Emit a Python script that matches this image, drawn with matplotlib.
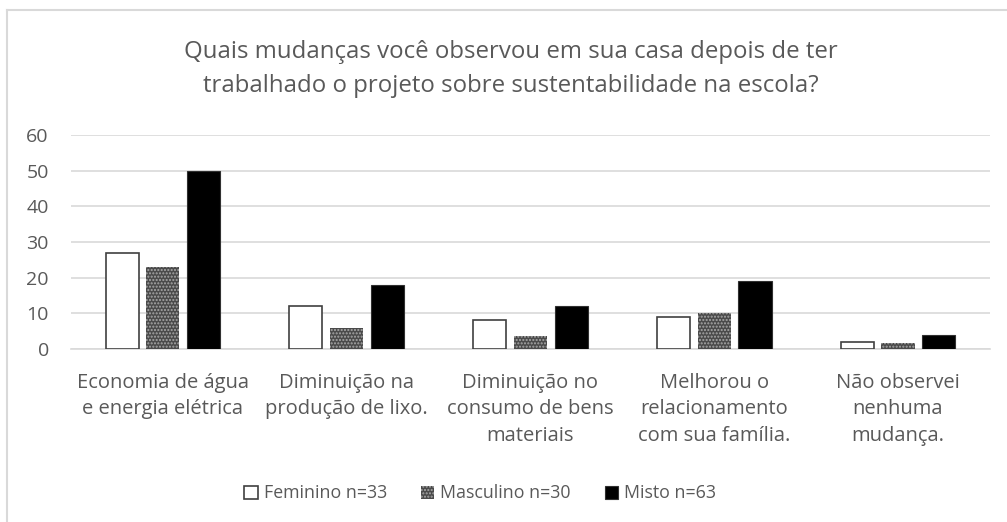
import matplotlib.pyplot as plt
import numpy as np
from matplotlib.lines import Line2D

plt.rcParams['font.family'] = ['Open Sans', 'DejaVu Sans']
plt.rcParams['hatch.linewidth'] = 1.0

# data
categories = ['Economia de água\ne energia elétrica',
              'Diminuição na\nprodução de lixo.',
              'Diminuição no\nconsumo de bens\nmateriais',
              'Melhorou o\nrelacionamento\ncom sua família.',
              'Não observei\nnenhuma\nmudança.']
feminino = [27, 12, 8, 9, 2]
masculino = [23, 6, 3.6, 10, 1.8]
misto = [50, 18, 12, 19, 4]
series_labels = ['Feminino n=33', 'Masculino n=30', 'Misto n=63']

txt = '#595959'
grid = '#d9d9d9'

fig = plt.figure(figsize=(10.07, 5.22), dpi=100)
ax = fig.add_axes([0.0705, 0.3314, 0.9125, 0.41])

x = np.arange(len(categories))
w = 0.18
step = 0.222
ax.bar(x - step, feminino, w, facecolor='white', edgecolor='#404040', linewidth=1.2,
       label=series_labels[0], zorder=3)
ax.bar(x, masculino, w, facecolor='#4a4a4a', edgecolor='#a8a8a8', linewidth=0,
       hatch='.....', label=series_labels[1], zorder=3)
ax.bar(x + step, misto, w, facecolor='black', edgecolor='#303030', linewidth=0.8,
       label=series_labels[2], zorder=3)

ax.set_xlim(-0.5, len(categories) - 0.5)
ax.set_ylim(0, 60)
ax.set_yticks(range(0, 61, 10))
ax.yaxis.grid(True, color=grid, linewidth=1.2, zorder=0)
for s in ['top', 'right', 'left']:
    ax.spines[s].set_visible(False)
ax.spines['bottom'].set_color(grid)
ax.spines['bottom'].set_linewidth(1.2)
ax.tick_params(axis='both', length=0, colors=txt, labelsize=14)
ax.tick_params(axis='y', pad=16)
ax.tick_params(axis='x', pad=17, labelsize=14.5)
ax.set_xticks(x)
ax.set_xticklabels(categories, linespacing=1.45)

fig.text(0.507, 0.868, 'Quais mudanças você observou em sua casa depois de ter\n'
         'trabalhado o projeto sobre sustentabilidade na escola?',
         ha='center', va='center', fontsize=17.3, color=txt, linespacing=1.6)

ax.legend(loc='center', bbox_to_anchor=(0.477, 0.055), bbox_transform=fig.transFigure,
          ncol=3, frameon=False, fontsize=12.8, labelcolor=txt, handlelength=0.75,
          handleheight=0.75, handletextpad=0.35, columnspacing=1.9)

# outer border
fig.add_artist(Line2D([7 / 1007, 7 / 1007], [0, 1 - 10 / 522], color=grid, lw=1.5,
                      transform=fig.transFigure))
fig.add_artist(Line2D([7 / 1007, 1], [1 - 10 / 522, 1 - 10 / 522], color=grid, lw=1.5,
                      transform=fig.transFigure))

fig.savefig('out.png', dpi=100)
